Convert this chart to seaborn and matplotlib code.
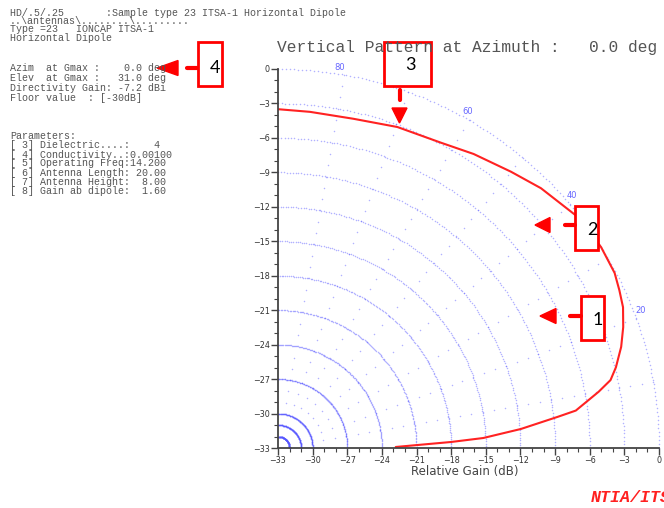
import numpy as np
import pandas as pd
import seaborn as sns
import matplotlib.pyplot as plt
from matplotlib.lines import Line2D
from matplotlib.patches import Polygon, Rectangle
from matplotlib.ticker import MultipleLocator

W, H = 664, 508

# vertical pattern: elevation angle (deg) and relative gain (dB)
elev = [90, 84.6, 77.2, 69.7, 62, 56.5, 50, 44.8, 38.1, 35.2, 32, 27.6, 24.9, 22.3,
        19.4, 16.5, 13.5, 11.6, 10, 7.2, 6.4, 4.5, 2.8, 2.0, 0.5]
gain = [-3.5, -3.6, -3.6, -3.2, -2.9, -2.3, -1.6, -0.9, -0.2, -0.1, 0.0, -0.1, -0.4, -0.7,
        -1.3, -2.0, -2.9, -3.6, -4.8, -7.0, -8.6, -11.9, -15.2, -18.0, -22.8]

floor_db = -33
ring_db = [1, 2, 3, 6, 9, 12, 15, 18, 21, 24, 27, 30, 33]   # ring radii above the floor
spoke_deg = [10, 20, 30, 40, 50, 60, 70, 80]
angle_labels = [80, 60, 40, 20, 0]
ticks = list(range(-33, 1, 3))

header = ["HD/.5/.25       :Sample type 23 ITSA-1 Horizontal Dipole",
          "..\\antennas\\........\\.........",
          "Type =23   IONCAP ITSA-1",
          "Horizontal Dipole"]
header_y = [12.7, 20.5, 29.3, 38.3]
gmax = ["Azim  at Gmax :    0.0 deg",
        "Elev  at Gmax :   31.0 deg",
        "Directivity Gain: -7.2 dBi",
        "Floor value  : [-30dB]"]
gmax_y = [68.3, 78.0, 87.8, 97.7]
params = ["Parameters:",
          "[ 3] Dielectric....:    4",
          "[ 4] Conductivity..:0.00100",
          "[ 5] Operating Freq:14.200",
          "[ 6] Antenna Length: 20.00",
          "[ 7] Antenna Height:  8.00",
          "[ 8] Gain ab dipole:  1.60"]
params_y = [135.7, 145.0, 154.5, 163.5, 172.5, 182.0, 191.3]

sns.set_theme(style="white")
plt.rcParams['font.family'] = ['DejaVu Sans']

fig = plt.figure(figsize=(W / 100, H / 100), dpi=100)
ax = fig.add_axes([278 / W, 1 - 448 / H, 381 / W, 379 / H])

# polar grid drawn in gain coordinates
for r in ring_db:
    t = np.radians(np.linspace(0, 90, 150))
    ax.plot(floor_db + r * np.cos(t), floor_db + r * np.sin(t), ls='none',
            marker='o', ms=1.1, mew=0, color='#5555ff', alpha=0.45, clip_on=False)
for a in spoke_deg:
    rr = np.arange(1, 34)
    t = np.radians(a)
    ax.plot(floor_db + rr * np.cos(t), floor_db + rr * np.sin(t), ls='none',
            marker='o', ms=1.1, mew=0, color='#5555ff', alpha=0.45)
for a in angle_labels:
    t = np.radians(a + 0.8)
    ax.text(floor_db + 33.6 * np.cos(t), floor_db + 33.6 * np.sin(t), str(a),
            fontsize=6, color='#6666ff', ha='center', va='center', clip_on=False)

# pattern
df = pd.DataFrame({'elev': elev, 'gain': gain})
rad = np.radians(df['elev'])
df['x'] = floor_db + (df['gain'] - floor_db) * np.cos(rad)
df['y'] = floor_db + (df['gain'] - floor_db) * np.sin(rad)
sns.lineplot(data=df, x='x', y='y', sort=False, color='#ff2222', lw=1.5, ax=ax)

ax.set_xlim(-33, 0)
ax.set_ylim(-33, 0)
ax.set_xticks(ticks)
ax.set_yticks(ticks)
ax.xaxis.set_minor_locator(MultipleLocator(1))
ax.yaxis.set_minor_locator(MultipleLocator(1))
ax.tick_params(which='major', direction='out', length=5, width=1, color='#444444',
               labelsize=5.8, labelcolor='#333333', pad=1, bottom=True, left=True)
ax.tick_params(which='minor', direction='out', length=3, width=0.8, color='#444444',
               bottom=True, left=True)
ax.set_xlabel('')
ax.set_ylabel('')
for s in ['top', 'right']:
    ax.spines[s].set_visible(False)
for s in ['left', 'bottom']:
    ax.spines[s].set_color('#444444')
    ax.spines[s].set_linewidth(1.3)
ax.set_facecolor('white')

# texts around the chart
def fy(y):
    return 1 - y / H

mono = 'Liberation Mono'
for lines, ys in [(header, header_y), (gmax, gmax_y), (params, params_y)]:
    for s, y in zip(lines, ys):
        fig.text(10 / W, fy(y), s, family=mono, fontsize=7.2, color='#555555', va='center')
fig.text(277 / W, fy(47.3), "Vertical Pattern at Azimuth :   0.0 deg", family=mono,
         fontsize=11.7, color='#555555', va='center')
fig.text(465 / W, fy(472), "Relative Gain (dB)", fontsize=8.5, color='#444444',
         ha='center', va='center')
fig.text(591 / W, fy(498), "NTIA/ITS", family=mono, fontsize=12, weight='bold',
         style='italic', color='#ff2020', va='center')

# numbered callout boxes with dashed arrows
red = '#ff0000'
boxes = [("4", 198, 42, 222, 86, 215, 68),
         ("3", 384, 42, 431, 86, 410, 65),
         ("2", 575, 206, 598, 250, 592, 230),
         ("1", 581, 296, 604, 340, 598, 320)]
for n, x0, y0, x1, y1, tx, ty in boxes:
    fig.add_artist(Rectangle((x0 / W, fy(y1)), (x1 - x0) / W, (y1 - y0) / H,
                             transform=fig.transFigure, fc='white', ec=red, lw=2))
    fig.text(tx / W, fy(ty), n, family='Lato', fontsize=13, color='black',
             ha='center', va='center')

# (row, dash start, dash end, head base, head tip) for horizontal arrows
h_arrows = [(68, 197, 187, 178, 157), (225, 575, 565, 550, 535), (316, 581, 570, 556, 540)]
for y, d0, d1, b, tip in h_arrows:
    fig.add_artist(Line2D([d0 / W, d1 / W], [fy(y), fy(y)], transform=fig.transFigure,
                          color=red, lw=3))
    fig.add_artist(Polygon([(b / W, fy(y - 7.5)), (b / W, fy(y + 7.5)), (tip / W, fy(y))],
                           closed=True, transform=fig.transFigure, fc=red, ec=red))
# arrow under box 3 points down
ax3 = 399.5
fig.add_artist(Line2D([ax3 / W, ax3 / W], [fy(90), fy(100)], transform=fig.transFigure,
                      color=red, lw=3))
fig.add_artist(Polygon([((ax3 - 7.5) / W, fy(108)), ((ax3 + 7.5) / W, fy(108)),
                        (ax3 / W, fy(123))], closed=True, transform=fig.transFigure,
                       fc=red, ec=red))

fig.savefig('out.png', dpi=100, facecolor='white')
